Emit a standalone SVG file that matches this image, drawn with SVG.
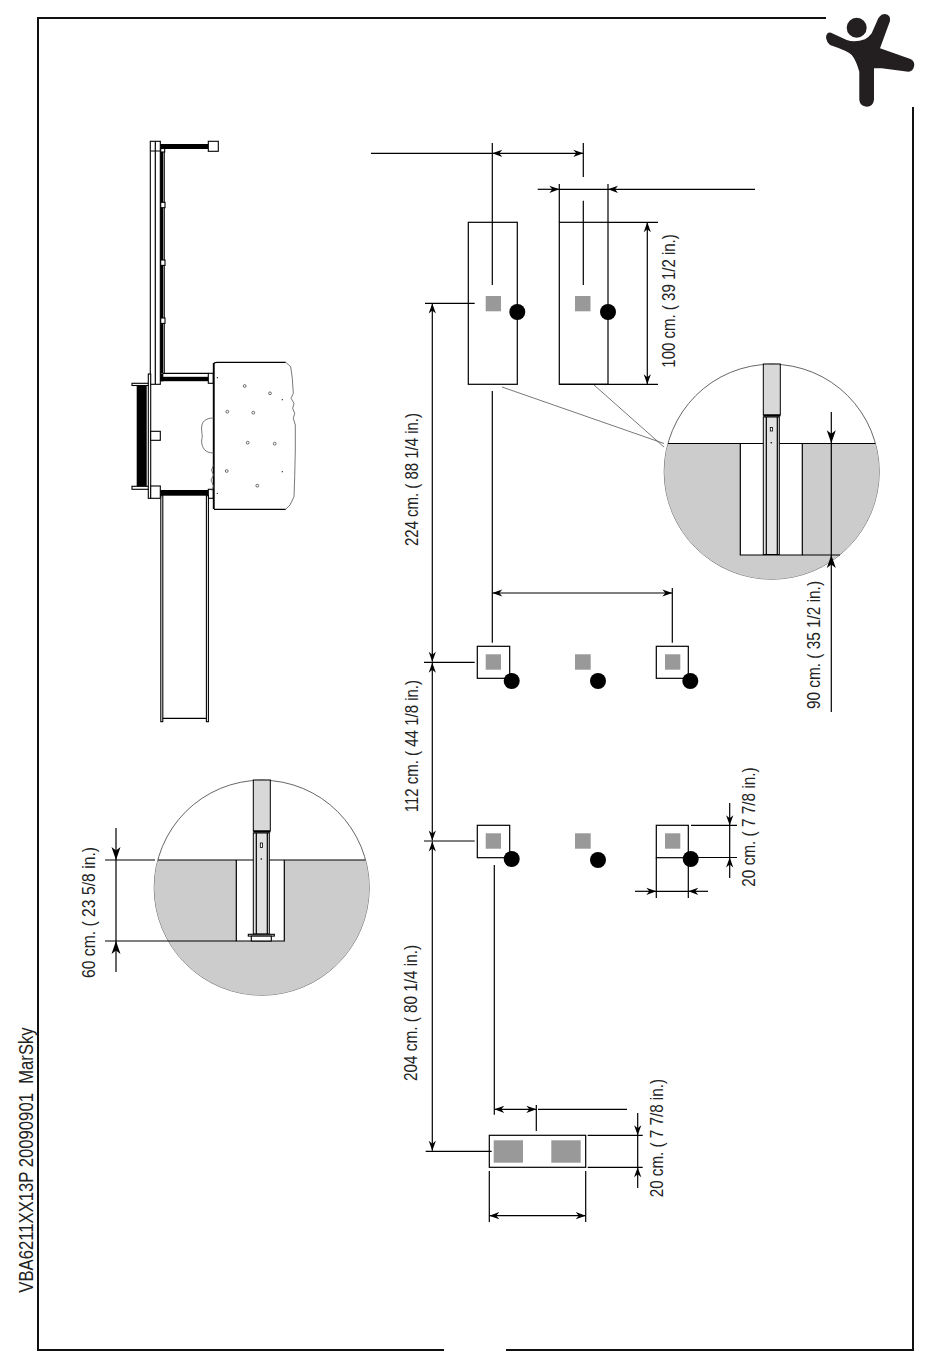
<svg xmlns="http://www.w3.org/2000/svg" width="950" height="1369" viewBox="0 0 950 1369">
<style>
.l{stroke:#000;stroke-width:1.2;fill:none}
.a{stroke:#000;stroke-width:1.2;fill:none;marker-end:url(#ah)}
.a2{stroke:#000;stroke-width:1.2;fill:none;marker-end:url(#ah2)}
.b{stroke:#000;stroke-width:1.2;fill:none;marker-start:url(#ah);marker-end:url(#ah)}
.f{stroke:#111;stroke-width:2;fill:none}
.box{stroke:#000;stroke-width:1.2;fill:none}
.sq{fill:#999}
.pt{fill:#000}
.w{stroke:#000;stroke-width:1.1;fill:#fff}
.k{fill:#000}
.g{stroke:#555;stroke-width:.8;fill:none}
.stone{stroke:#333;stroke-width:.7;fill:#fff}
.t{font-family:"Liberation Sans",Arial,sans-serif;font-size:18.5px;fill:#222}
.ground{fill:#ccc}
.post{fill:#d8d8d8;stroke:#000;stroke-width:1}
.inner{fill:#e2e2e2;stroke:#000;stroke-width:1}
</style>
<defs>
<marker id="ah" viewBox="-11 -4 12 8" refX="0" refY="0" markerUnits="userSpaceOnUse" markerWidth="12" markerHeight="8" orient="auto-start-reverse"><path d="M0,0L-10,-3.6L-7,0L-10,3.6Z" fill="#000"/></marker>
<marker id="ah2" viewBox="-14 -5 15 10" refX="0" refY="0" markerUnits="userSpaceOnUse" markerWidth="15" markerHeight="10" orient="auto"><path d="M0,0L-13,-4.5L-9.5,0L-13,4.5Z" fill="#000"/></marker>
<clipPath id="c1"><circle cx="771.7" cy="471.7" r="107.5"/></clipPath>
<clipPath id="c2"><circle cx="261.7" cy="887.7" r="107.5"/></clipPath>
</defs>
<rect width="950" height="1369" fill="#fff"/>

<g id="frame">
<path class="f" d="M826,18H38V1350H444M506,1350H913V107"/>
</g>

<g id="logo">
<circle cx="856.7" cy="27.7" r="10" fill="#231f20"/>
<path fill="#231f20" d="M826,37.3Q826.5,32 831,32.7L846.7,40Q855,43 865,39.3Q869,37 871.7,33.3L878.3,18.3Q881,14 885,14Q891,15 890,21L880,48.3L908.3,58.3Q914.5,60 914.3,65Q913.5,71.5 908.3,71.7L881.7,68.3L874,68.3V100Q873,106.5 866.7,106.7Q860,106 859.3,100V71.7Q856,60 851.7,55Q848,51 830,45Q826.5,42 826,37.3Z"/>
</g>

<g id="plan-view">
<rect class="w" x="150.3" y="141.3" width="10" height="243"/>
<path class="l" d="M155.3,141.3V384M150.3,151H160.3"/>
<rect class="k" x="160.3" y="144" width="48" height="5"/>
<rect class="w" x="208.3" y="141.3" width="10" height="10"/>
<rect class="k" x="160.3" y="151" width="2.8" height="222"/>
<path class="l" d="M164.2,151V373"/>
<rect class="w" x="160.7" y="148.5" width="4" height="3.5"/>
<rect class="w" x="160.7" y="202.3" width="4.3" height="5.4"/>
<rect class="w" x="160.7" y="260" width="4.3" height="5.4"/>
<rect class="w" x="160.7" y="318" width="4.3" height="5.4"/>
<path class="l" d="M163,373.3H208.3"/>
<rect class="k" x="160.3" y="376.8" width="48" height="4.4"/>
<rect class="w" x="208.3" y="373.3" width="5" height="10"/>
<rect class="k" x="160.3" y="373.3" width="3" height="8"/>
<rect class="k" x="136.7" y="385" width="10" height="102"/>
<rect class="w" x="132" y="383.3" width="18.3" height="2.2"/>
<rect class="w" x="132" y="486.3" width="18.3" height="3"/>
<rect class="w" x="148.3" y="374" width="2.4" height="124.3"/>
<rect class="w" x="150.7" y="486" width="9.6" height="12.3"/>
<rect class="w" x="150.7" y="431.3" width="9.6" height="9"/>
<rect class="k" x="160.3" y="490" width="48" height="5.7"/>
<rect class="w" x="208.3" y="489.3" width="5" height="9"/>
<rect class="w" x="160.8" y="495.7" width="2" height="226"/>
<rect class="w" x="206.4" y="495.7" width="2" height="226"/>
<path class="l" d="M162.8,718.3H206.4"/>
<rect class="k" x="212.8" y="363" width="1.9" height="146"/>
<path class="l" d="M214,363Q215,362.3 217,362.3H285.7M214,509.3H285.7"/>
<path class="g" d="M285.7,362.3L290.7,366.7L292.3,378.3L293.3,393.3L291,398.3L294,403.3L292.7,408.3L294.7,413.3L293.3,418.3L295.3,425V450L294.7,476.7L294,496.7L290,505L285.7,509.3"/>
<path class="g" d="M213.7,418C205,418 201.6,422 201.6,428C201.6,434 203,436 201.6,440C201.6,448 205,453 213.7,453"/>
<path class="g" d="M213.5,465L211.5,470L213.5,475L211,480L213.5,486L212,491"/>
<g id="stones">
<circle class="stone" cx="244.7" cy="386" r="1.4"/>
<circle class="stone" cx="270" cy="393.3" r="1.4"/>
<circle class="stone" cx="227.3" cy="411.7" r="1.4"/>
<circle class="stone" cx="253.3" cy="412.7" r="1.4"/>
<circle class="stone" cx="247.7" cy="442.7" r="1.4"/>
<circle class="stone" cx="274.7" cy="443.7" r="1.4"/>
<circle class="stone" cx="226.7" cy="471" r="1.4"/>
<circle class="stone" cx="257.3" cy="485.7" r="1.4"/>
<circle class="k" cx="217.3" cy="377.7" r=".6"/>
<circle class="k" cx="282.3" cy="399.7" r=".6"/>
<circle class="k" cx="282.3" cy="471.7" r=".6"/>
<circle class="k" cx="217.3" cy="493.3" r=".6"/>
</g>
</g>

<g id="detail-90">
<circle cx="771.7" cy="471.7" r="107.5" fill="#fff" stroke="#555" stroke-width=".9"/>
<g clip-path="url(#c1)">
<rect class="ground" x="660" y="443.3" width="230" height="140"/>
<rect x="740.3" y="443.3" width="62" height="111.7" fill="#fff"/>
<path class="l" d="M660,443.5H890M740.3,443.3V555H802.3V443.3"/>
</g>
<rect class="post" x="763.3" y="364" width="17" height="51"/>
<rect x="763.3" y="414.5" width="17" height="2.2" fill="#000"/>
<rect class="inner" x="763.3" y="417" width="16" height="137.5"/>
<path class="l" d="M766.3,417V554M777.3,417V554"/>
<rect x="770.3" y="427.5" width="2.2" height="3.5" fill="#fff" stroke="#000" stroke-width=".8"/>
<circle class="k" cx="771.3" cy="442.7" r=".8"/>
</g>

<g id="detail-60">
<circle cx="261.7" cy="887.7" r="107.5" fill="#fff" stroke="#555" stroke-width=".9"/>
<g clip-path="url(#c2)">
<rect class="ground" x="150" y="860" width="230" height="140"/>
<rect x="236.3" y="860" width="48" height="81" fill="#fff"/>
<path class="l" d="M150,860H380M236.3,860V941H284.3V860"/>
</g>
<rect class="post" x="253.3" y="780" width="17" height="51"/>
<rect x="253.3" y="830.5" width="17" height="2.2" fill="#000"/>
<rect class="inner" x="253.3" y="833" width="16" height="101"/>
<path class="l" d="M256.3,833V934M267.3,833V934"/>
<rect x="260.3" y="843" width="2.2" height="4.5" fill="#fff" stroke="#000" stroke-width=".8"/>
<circle class="k" cx="261.3" cy="859" r=".8"/>
<rect class="w" x="248.3" y="934.3" width="26" height="1.8"/>
<rect class="w" x="251.3" y="936.1" width="20" height="4.9"/>
</g>

<g id="footings">
<g id="pit-left"><rect class="box" x="468.3" y="222.3" width="49" height="162"/><rect class="sq" x="485.7" y="296" width="15.3" height="15.3"/></g>
<g id="pit-right"><rect class="box" x="559.3" y="222.3" width="48.7" height="162"/><rect class="sq" x="575" y="296" width="15.5" height="15.3"/></g>
<circle class="pt" cx="517.3" cy="312" r="8"/>
<circle class="pt" cx="608" cy="312" r="8"/>
<g id="row2"><rect class="box" x="477.3" y="646.3" width="32.4" height="32"/><rect class="sq" x="485.7" y="654.3" width="15.3" height="15.4"/><circle class="pt" cx="511.7" cy="681" r="8"/>
<rect class="sq" x="575" y="654.3" width="15.7" height="15.4"/><circle class="pt" cx="598" cy="681" r="8"/>
<rect class="box" x="656.3" y="646.3" width="32" height="32"/><rect class="sq" x="665" y="654.3" width="15.3" height="15.4"/><circle class="pt" cx="690.3" cy="681" r="8"/></g>
<g id="row3"><rect class="box" x="477.3" y="825.3" width="32.4" height="32.4"/><rect class="sq" x="485.7" y="833.3" width="15.3" height="15.4"/><circle class="pt" cx="511.7" cy="859" r="8"/>
<rect class="sq" x="575" y="833.3" width="15.7" height="15.4"/><circle class="pt" cx="598" cy="860" r="8"/>
<rect class="box" x="656.3" y="825.3" width="32" height="32.4"/><rect class="sq" x="665" y="833.3" width="15.3" height="15.4"/><circle class="pt" cx="690.7" cy="859" r="8"/></g>
<g id="base"><rect class="box" x="489.3" y="1135.3" width="96.4" height="32"/><rect class="sq" x="493.7" y="1140.3" width="29.3" height="22.4"/><rect class="sq" x="551.3" y="1140.3" width="29.4" height="22.4"/></g>
</g>

<g id="connectors">
<path class="l" d="M371,153.3H492.3M492.3,143V285M583.3,143V177M583.3,200.7V285M559.3,184V222M608,184V222"/>
<line class="b" x1="492.3" y1="153.3" x2="583.3" y2="153.3"/>
<line class="a" x1="537.7" y1="189.3" x2="559.3" y2="189.3"/>
<line class="a" x1="755" y1="189.3" x2="608" y2="189.3"/>
<path class="l" d="M559.3,189.3H608M608,222.3H658M559.3,384.3H658"/>
<line class="b" x1="647.3" y1="222.3" x2="647.3" y2="384.3"/>
<path class="g" d="M502,387L664,443.5M594,385L664,447"/>
<path class="l" d="M425,303.3H474.7M424,662.3H474.7M424,841H474.7M425.7,1151.3H491.7"/>
<line class="b" x1="432.3" y1="303.5" x2="432.3" y2="661.8"/>
<line class="b" x1="432.3" y1="662.8" x2="432.3" y2="840.5"/>
<line class="b" x1="432.3" y1="841.5" x2="432.3" y2="1150.8"/>
<path class="l" d="M492.3,391V642.7M672.3,588V642.7"/>
<line class="b" x1="492.3" y1="593" x2="672.3" y2="593"/>
<path class="l" d="M494.3,865V1114.7M536.3,1105V1131M538,1109.3H627"/>
<line class="b" x1="494.3" y1="1109.3" x2="536.3" y2="1109.3"/>
<path class="l" d="M587.7,1135.3H642.7M587.7,1167.3H642.7M637.7,1135.3V1167.3M489.3,1171V1222M585.7,1171V1222"/>
<line class="a" x1="637.7" y1="1113" x2="637.7" y2="1135.3"/>
<line class="a" x1="637.7" y1="1188" x2="637.7" y2="1167.3"/>
<line class="b" x1="489.3" y1="1215.7" x2="585.7" y2="1215.7"/>
<path class="l" d="M691,825.3H737M698,857.5H737M729.7,825.3V857.5M656.3,857.5V898M688.3,857.5V898M656.3,891.3H688.3"/>
<line class="a" x1="729.7" y1="803" x2="729.7" y2="825.3"/>
<line class="a" x1="729.7" y1="878" x2="729.7" y2="857.5"/>
<line class="a" x1="635" y1="891.3" x2="656.3" y2="891.3"/>
<line class="a" x1="708" y1="891.3" x2="688.3" y2="891.3"/>
<path class="l" d="M831.3,443.3V555M802.3,555H840"/>
<line class="a2" x1="831.3" y1="412" x2="831.3" y2="443.3"/>
<line class="a2" x1="831.3" y1="712" x2="831.3" y2="555"/>
<path class="l" d="M105,860H155M105,941H236.3M116,860V941"/>
<line class="a2" x1="116" y1="828" x2="116" y2="860"/>
<line class="a2" x1="116" y1="972" x2="116" y2="941"/>
</g>

<g id="labels">
<text class="t" transform="translate(675,367.7) rotate(-90)" textLength="133.5" lengthAdjust="spacingAndGlyphs">100 cm. ( 39 1/2 in.)</text>
<text class="t" transform="translate(418.3,546) rotate(-90)" textLength="133" lengthAdjust="spacingAndGlyphs">224 cm. ( 88 1/4 in.)</text>
<text class="t" transform="translate(418.3,812.3) rotate(-90)" textLength="132.3" lengthAdjust="spacingAndGlyphs">112 cm. ( 44 1/8 in.)</text>
<text class="t" transform="translate(417,1081) rotate(-90)" textLength="136" lengthAdjust="spacingAndGlyphs">204 cm. ( 80 1/4 in.)</text>
<text class="t" transform="translate(755,886.7) rotate(-90)" textLength="119.4" lengthAdjust="spacingAndGlyphs">20 cm. ( 7 7/8 in.)</text>
<text class="t" transform="translate(663.3,1197.3) rotate(-90)" textLength="118.3" lengthAdjust="spacingAndGlyphs">20 cm. ( 7 7/8 in.)</text>
<text class="t" transform="translate(820,709) rotate(-90)" textLength="128" lengthAdjust="spacingAndGlyphs">90 cm. ( 35 1/2 in.)</text>
<text class="t" transform="translate(95,978) rotate(-90)" textLength="131" lengthAdjust="spacingAndGlyphs">60 cm. ( 23 5/8 in.)</text>
<text class="t" style="font-size:20.5px" transform="translate(33.3,1292.7) rotate(-90)" textLength="265.4" lengthAdjust="spacingAndGlyphs" xml:space="preserve">VBA6211XX13P 20090901  MarSky</text>
</g>
</svg>
